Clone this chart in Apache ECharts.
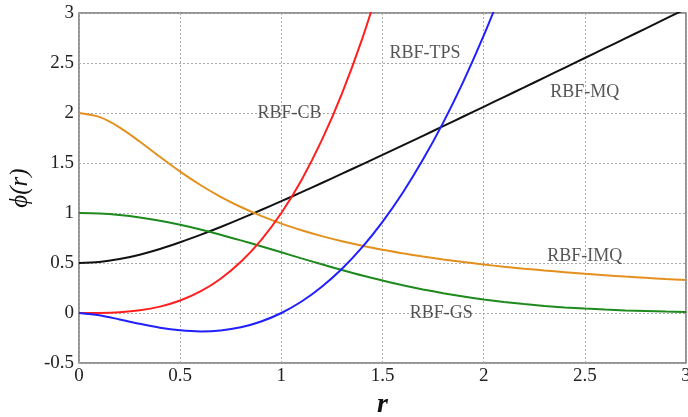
<!DOCTYPE html>
<html>
<head>
<meta charset="utf-8">
<script src="https://cdn.jsdelivr.net/npm/echarts@6/dist/echarts.min.js"></script>
<style>html,body{margin:0;padding:0;background:#fff}#c{width:688px;height:417px}</style>
</head>
<body>
<div id="c"></div>
<script>
// r sample positions
const rValues = [0,0.1,0.2,0.3,0.4,0.5,0.6,0.7,0.8,0.9,1.0,1.1,1.2,1.3,1.4,1.5,1.6,1.7,1.8,1.9,2.0,2.1,2.2,2.3,2.4,2.5,2.6,2.7,2.8,2.9,3.0];
// values
const mqValues  = [0.5,0.51,0.539,0.583,0.64,0.707,0.781,0.86,0.943,1.03,1.118,1.208,1.3,1.393,1.487,1.581,1.676,1.772,1.868,1.965,2.062,2.159,2.256,2.354,2.452,2.55,2.648,2.746,2.844,2.943,3.041];
const imqValues = [2,1.961,1.857,1.715,1.562,1.414,1.28,1.162,1.06,0.971,0.894,0.828,0.769,0.718,0.673,0.632,0.597,0.564,0.535,0.509,0.485,0.463,0.443,0.425,0.408,0.392,0.378,0.364,0.352,0.34,0.329];
const gsValues  = [1,0.995,0.98,0.956,0.923,0.882,0.835,0.783,0.726,0.667,0.607,0.546,0.487,0.43,0.375,0.325,0.278,0.236,0.198,0.164,0.135,0.11,0.089,0.071,0.056,0.044,0.034,0.026,0.02,0.015,0.011];
const cbValues  = [0,0.001,0.008,0.027,0.064,0.125,0.216,0.343,0.512,0.729,1,1.331,1.728,2.197,2.744,3.375];
const tpsValues = [0,-0.023,-0.064,-0.108,-0.147,-0.173,-0.184,-0.175,-0.143,-0.085,0,0.115,0.263,0.443,0.659,0.912,1.203,1.534,1.904,2.317,2.773,3.272];
// curve labels
const labelNames = ['RBF-CB','RBF-TPS','RBF-MQ','RBF-IMQ','RBF-GS'];
const labelR     = [1.04,1.71,2.5,2.5,1.79];
const labelPhi   = [2.0,2.6,2.21,0.57,0.0];

const pairs = (vals) => vals.map((v,i)=>[rValues[i], v]);
const serif = '"Liberation Serif", "DejaVu Serif", serif';

function line(name, vals, color){
  return {name, type:'line', data:pairs(vals), smooth:0.3, showSymbol:false, symbol:'none',
    lineStyle:{color, width:2}, clip:true, z:3};
}

const chart = echarts.init(document.getElementById('c'));
chart.setOption({
  animation:false,
  backgroundColor:'#fff',
  grid:{left:79, right:2, top:13, bottom:54, show:true, borderColor:'#707070', borderWidth:1.5,
    backgroundColor:'transparent', containLabel:false, outerBoundsMode:'none'},
  xAxis:{type:'value', min:0, max:3, interval:0.5,
    name:'r', nameLocation:'middle', nameGap:25,
    nameTextStyle:{fontFamily:serif, fontStyle:'italic', fontWeight:'bold', fontSize:28, color:'#111'},
    axisLine:{show:false}, axisTick:{show:false},
    axisLabel:{fontFamily:serif, fontSize:19, color:'#222', margin:4, formatter:(v)=>String(v)},
    splitLine:{show:true, lineStyle:{color:'#a8a8a8', type:[2,2], width:1}}},
  yAxis:{type:'value', min:-0.5, max:3, interval:0.5,
    name:'\u03d5(r)', nameLocation:'middle', nameGap:46, nameRotate:90,
    nameTextStyle:{fontFamily:serif, fontStyle:'italic', fontSize:25, color:'#111'},
    axisLine:{show:false}, axisTick:{show:false},
    axisLabel:{fontFamily:serif, fontSize:19, color:'#222', margin:5},
    splitLine:{show:true, lineStyle:{color:'#a8a8a8', type:[2,2], width:1}}},
  series:[
    line('RBF-MQ', mqValues, '#111111'),
    line('RBF-IMQ', imqValues, '#e3901f'),
    line('RBF-GS', gsValues, '#1e8a1e'),
    line('RBF-CB', cbValues, '#ff1f1f'),
    line('RBF-TPS', tpsValues, '#1f1fff'),
    {type:'scatter', symbolSize:0, z:5, silent:true,
      data:labelNames.map((n,i)=>({value:[labelR[i], labelPhi[i]], name:n})),
      label:{show:true, position:'inside', formatter:(p)=>p.name,
        fontFamily:serif, fontSize:18, color:'#2a2a2a'}}
  ]
});
</script>
</body>
</html>
